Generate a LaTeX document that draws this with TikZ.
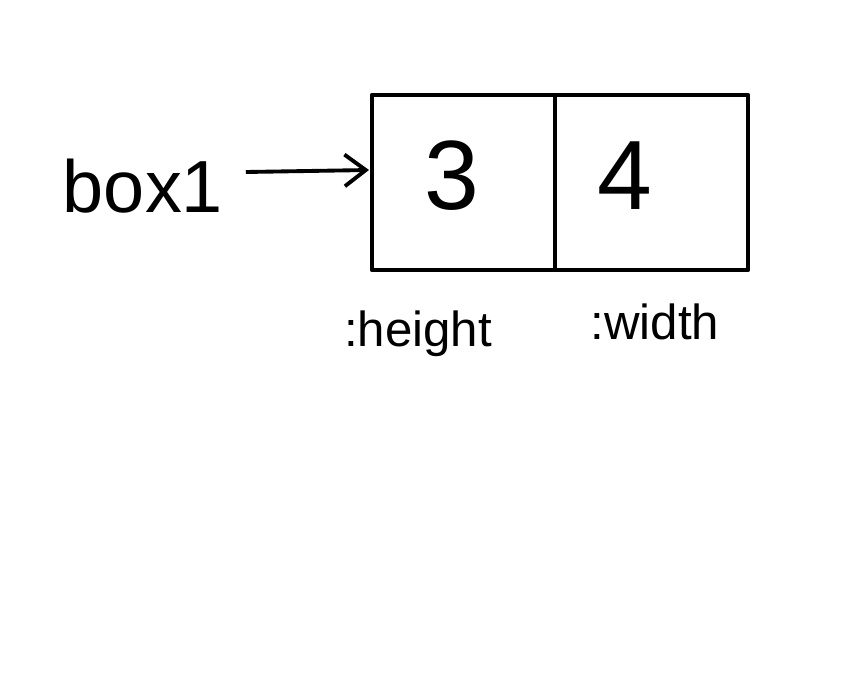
\documentclass[tikz,border=0pt]{standalone}
\usepackage{fontspec}
\setmainfont{Liberation Sans}
\usetikzlibrary{arrows.meta}
\begin{document}
\begin{tikzpicture}[x=0.01cm,y=-0.01cm,
  boxline/.style={line width=1.3pt,line cap=round,line join=round},
  bigdigit/.style={font=\fontsize{28}{30}\selectfont,inner sep=0pt},
  lbl/.style={font=\fontsize{14}{16}\selectfont,inner sep=0pt},
  namelbl/.style={font=\fontsize{21}{24}\selectfont,inner sep=0pt}]
\useasboundingbox (0,0) rectangle (860,675);
\fill[white] (0,0) rectangle (860,675);
\coordinate (tl) at (372,95);
\coordinate (br) at (748,270);
\draw[boxline] (tl) rectangle (br);
\coordinate (dt) at (555,95);
\coordinate (db) at (555,270);
\draw[line width=0.9pt] (dt) -- (db);
\node[bigdigit] (three) at (452,176) {3};
\node[bigdigit] (four) at (625,176) {4};
\node[namelbl] (name) at (143,186) {box1};
\coordinate (tip) at (369,170);
\draw[line width=1.1pt,-{Straight Barb[length=6pt,width=9pt]}] (name.east) ++(22,-14) coordinate (tail) -- (tip);
\node[lbl] (h) at (418,334) {:height};
\node[lbl] (w) at (655,322) {:width};
\end{tikzpicture}
\end{document}
